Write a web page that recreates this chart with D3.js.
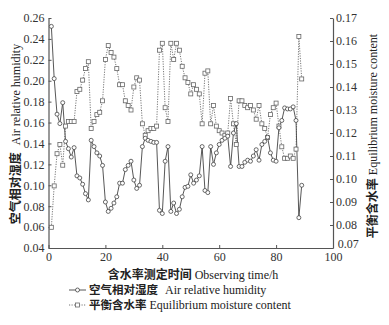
<!DOCTYPE html>
<html><head><meta charset="utf-8">
<script src="https://cdn.jsdelivr.net/npm/d3@7"></script>
<style>body{margin:0;background:#fff} svg{display:block}</style>
</head><body>
<svg id="c" width="389" height="325"></svg>
<script>
const hours = [1,2,3,4,5,6,7,8,9,10,11,12,13,14,15,16,17,18,19,20,21,22,23,24,25,26,27,28,29,30,
  31,32,33,34,35,36,37,38,39,40,41,42,43,44,45,46,47,48,49,50,51,52,53,54,55,56,57,58,59,60,
  61,62,63,64,65,66,67,68,69,70,71,72,73,74,75,76,77,78,79,80,81,82,83,84,85,86,87,88,89];
const humidity = [0.252,0.202,0.168,0.159,0.179,0.142,0.135,0.127,0.136,0.109,
  0.107,0.101,0.092,0.086,0.143,0.137,0.131,0.128,0.119,0.084,
  0.075,0.078,0.083,0.089,0.102,0.102,0.115,0.119,0.123,0.105,
  0.097,0.100,0.137,0.145,0.143,0.142,0.141,0.141,0.076,0.073,
  0.123,0.137,0.075,0.083,0.073,0.077,0.089,0.098,0.099,0.110,
  0.102,0.105,0.109,0.137,0.095,0.093,0.137,0.120,0.131,0.139,
  0.143,0.145,0.147,0.118,0.150,0.159,0.118,0.118,0.122,0.124,
  0.123,0.128,0.134,0.124,0.139,0.142,0.146,0.131,0.124,0.123,
  0.155,0.162,0.174,0.173,0.173,0.175,0.162,0.069,0.100];
const emc = [0.079,0.097,0.111,0.115,0.106,0.123,0.125,0.125,0.125,0.138,
  0.139,0.143,0.148,0.151,0.122,0.125,0.128,0.129,0.134,0.152,
  0.158,0.155,0.153,0.148,0.141,0.141,0.134,0.132,0.130,0.140,
  0.144,0.143,0.124,0.119,0.121,0.122,0.122,0.123,0.156,0.159,
  0.131,0.125,0.159,0.152,0.159,0.156,0.149,0.144,0.142,0.137,
  0.141,0.139,0.137,0.124,0.146,0.147,0.124,0.132,0.123,0.121,
  0.120,0.119,0.120,0.135,0.124,0.115,0.134,0.134,0.132,0.131,
  0.132,0.130,0.126,0.132,0.124,0.122,0.118,0.128,0.131,0.133,
  0.123,0.114,0.109,0.109,0.110,0.109,0.113,0.162,0.1435];
const xTicks = [0,20,40,60,80,100];
const leftTicks = [0.04,0.06,0.08,0.10,0.12,0.14,0.16,0.18,0.20,0.22,0.24,0.26];
const rightTicks = [0.07,0.08,0.09,0.10,0.11,0.12,0.13,0.14,0.15,0.16,0.17];

const svg = d3.select("#c");
svg.append("rect").attr("width",389).attr("height",325).attr("fill","#fff");
const X0=48.5, X1=333, YT=18, YB=248;
const x = d3.scaleLinear().domain([0,100]).range([X0,X1]);
const yL = d3.scaleLinear().domain([0.04,0.26]).range([YB,YT]);
const yR = d3.scaleLinear().domain([0.07,0.17]).range([YB,YT]);
const serif = "'Liberation Serif','DejaVu Serif',serif";
const cjk = "'Noto Sans CJK SC',sans-serif";
const axisCol = "#555";

function styleAxis(g){
  g.selectAll("path").attr("stroke",axisCol).attr("stroke-width",1.2);
  g.selectAll("line").attr("stroke",axisCol).attr("stroke-width",1);
  g.selectAll("text").attr("font-family",serif).attr("font-size",12).attr("fill","#333");
}
const gx = svg.append("g").attr("transform",`translate(0,${YB})`)
  .call(d3.axisBottom(x).tickValues(xTicks).tickFormat(d3.format("d")).tickSizeInner(-3).tickSizeOuter(0).tickPadding(4));
styleAxis(gx);
const gl = svg.append("g").attr("transform",`translate(${X0},0)`)
  .call(d3.axisLeft(yL).tickValues(leftTicks).tickFormat(d3.format(".2f")).tickSizeInner(-3).tickSizeOuter(0).tickPadding(4));
styleAxis(gl);
const gr = svg.append("g").attr("transform",`translate(${X1},0)`)
  .call(d3.axisRight(yR).tickValues(rightTicks).tickFormat(d3.format(".2f")).tickSizeInner(-3).tickSizeOuter(0).tickPadding(3));
styleAxis(gr);
gr.selectAll(".tick text").filter(d=>Math.abs(d-0.07)<1e-9).attr("dy","-0.05em").attr("dx","0.15em");

const hData = hours.map((h,i)=>({t:h,v:humidity[i]}));
const eData = hours.map((h,i)=>({t:h,v:emc[i]}));

svg.append("path").datum(eData)
  .attr("d",d3.line().x(d=>x(d.t)).y(d=>yR(d.v)))
  .attr("fill","none").attr("stroke","#777").attr("stroke-width",1).attr("stroke-dasharray","1.2,1.3");
svg.append("path").datum(hData)
  .attr("d",d3.line().x(d=>x(d.t)).y(d=>yL(d.v)))
  .attr("fill","none").attr("stroke","#444").attr("stroke-width",0.9);
svg.append("g").selectAll("rect").data(eData).join("rect")
  .attr("x",d=>x(d.t)-2).attr("y",d=>yR(d.v)-2).attr("width",4).attr("height",4)
  .attr("fill","#fff").attr("stroke","#666").attr("stroke-width",0.8);
svg.append("g").selectAll("circle").data(hData).join("circle")
  .attr("cx",d=>x(d.t)).attr("cy",d=>yL(d.v)).attr("r",2)
  .attr("fill","#fff").attr("stroke","#444").attr("stroke-width",0.8);

function mixed(parent, zh, en, gap, zhSize){
  const t = parent.append("text").attr("fill","#222").attr("font-size",12);
  t.append("tspan").attr("font-family",cjk).attr("font-weight",700).attr("font-size",zhSize||12).text(zh);
  t.append("tspan").attr("font-family",serif).attr("font-size",12).attr("dx",gap).text(en);
  return t;
}
mixed(svg,"含水率测定时间","Observing time/h",3).attr("x",193).attr("y",279).attr("text-anchor","middle");
mixed(svg.append("g").attr("transform","translate(20,134) rotate(-90)"),"空气相对湿度","Air relative humidity",7)
  .attr("text-anchor","middle");
mixed(svg.append("g").attr("transform","translate(377,136) rotate(-90)"),"平衡含水率","Equilibrium moisture content",3)
  .attr("text-anchor","middle");

const lg = svg.append("g");
lg.append("line").attr("x1",69).attr("x2",86).attr("y1",290).attr("y2",290).attr("stroke","#444").attr("stroke-width",0.9);
lg.append("circle").attr("cx",77.5).attr("cy",290).attr("r",2).attr("fill","#fff").attr("stroke","#444").attr("stroke-width",0.8);
lg.append("line").attr("x1",69).attr("x2",86).attr("y1",305).attr("y2",305).attr("stroke","#777").attr("stroke-width",1).attr("stroke-dasharray","1.2,1.3");
lg.append("rect").attr("x",75.5).attr("y",303).attr("width",4).attr("height",4).attr("fill","#fff").attr("stroke","#666").attr("stroke-width",0.8);
mixed(lg,"空气相对湿度","Air relative humidity",7,11.5).attr("x",89).attr("y",294);
mixed(lg,"平衡含水率","Equilibrium moisture content",3,11.5).attr("x",89).attr("y",309);
</script>
</body></html>
